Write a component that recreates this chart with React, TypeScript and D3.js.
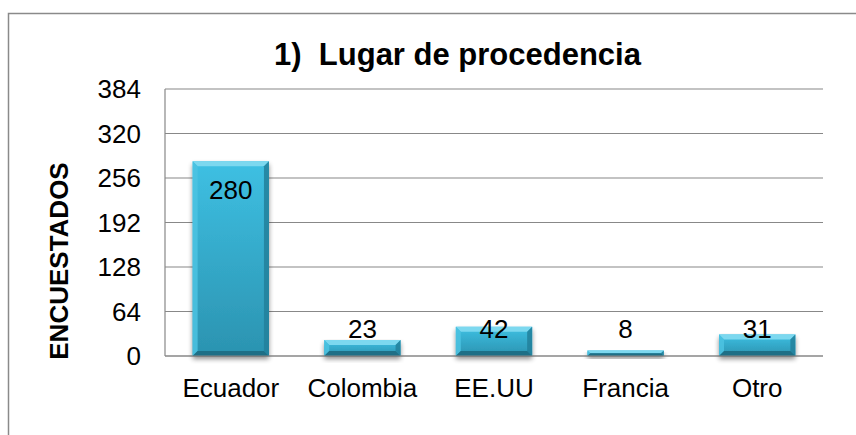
import React from "react";
import * as d3 from "d3";

const categories = ["Ecuador", "Colombia", "EE.UU", "Francia", "Otro"];
const values = [280, 23, 42, 8, 31];
const yTicks = [0, 64, 128, 192, 256, 320, 384];
const chartTitle = "1)  Lugar de procedencia";
const yTitle = "ENCUESTADOS";

const W = 856;
const H = 435;
const plot = { left: 165, right: 823, top: 89, bottom: 356 };
const FONT = "'Liberation Sans', Arial, sans-serif";

export default function App() {
  const x = d3
    .scaleBand<string>()
    .domain(categories)
    .range([plot.left, plot.right])
    .paddingInner(0.42)
    .paddingOuter(0.21);
  const y = d3.scaleLinear().domain([0, 384]).range([plot.bottom, plot.top]);
  const bw = x.bandwidth();

  return (
    <svg
      width={W}
      height={H}
      style={{ position: "absolute", left: 0, top: 0, background: "#fff" }}
      fontFamily={FONT}
    >
      <defs>
        <linearGradient id="barBody" x1="0" y1="0" x2="0" y2="1">
          <stop offset="0%" stopColor="#3EC0E3" />
          <stop offset="100%" stopColor="#2B93B0" />
        </linearGradient>
        <filter id="shadow" x="-20%" y="-20%" width="140%" height="160%">
          <feGaussianBlur in="SourceAlpha" stdDeviation="2.5" />
          <feOffset dx="0" dy="3" result="b" />
          <feComponentTransfer>
            <feFuncA type="linear" slope="0.45" />
          </feComponentTransfer>
          <feMerge>
            <feMergeNode />
            <feMergeNode in="SourceGraphic" />
          </feMerge>
        </filter>
      </defs>

      <rect x={8.5} y={13.5} width={W + 10} height={H + 10} fill="none" stroke="#8a8a8a" strokeWidth={1.5} />

      {yTicks.map((t) => (
        <g key={t}>
          <line x1={plot.left} x2={plot.right} y1={y(t)} y2={y(t)} stroke="#888" strokeWidth={1.2} />
          <text x={141} y={y(t) + 9} textAnchor="end" fontSize={26} fill="#000">
            {t}
          </text>
        </g>
      ))}
      <line x1={plot.left} x2={plot.left} y1={plot.top} y2={plot.bottom} stroke="#888" strokeWidth={1.2} />

      {categories.map((c, i) => {
        const v = values[i];
        const x0 = x(c)!;
        const y0 = y(v);
        const h = y(0) - y0;
        const b = Math.min(5, h / 2);
        const x1 = x0 + bw;
        const y1 = y(0);
        return (
          <g key={c}>
            <g filter="url(#shadow)">
              <rect x={x0} y={y0} width={bw} height={h} fill="url(#barBody)" />
            </g>
            <polygon points={`${x0},${y0} ${x1},${y0} ${x1 - b},${y0 + b} ${x0 + b},${y0 + b}`} fill="#7CD8EF" />
            <polygon points={`${x0},${y0} ${x0 + b},${y0 + b} ${x0 + b},${y1 - b} ${x0},${y1}`} fill="#4CC3E2" opacity={0.85} />
            <polygon points={`${x1},${y0} ${x1 - b},${y0 + b} ${x1 - b},${y1 - b} ${x1},${y1}`} fill="#22809B" opacity={0.85} />
            <polygon points={`${x0},${y1} ${x0 + b},${y1 - b} ${x1 - b},${y1 - b} ${x1},${y1}`} fill="#1E6F86" />
          </g>
        );
      })}

      <line x1={plot.left} x2={plot.right} y1={y(0)} y2={y(0)} stroke="#888" strokeWidth={1.2} />

      {categories.map((c, i) => {
        const v = values[i];
        const cx = x(c)! + bw / 2;
        const base = Math.min(y(v) + 38, y(0) - 18);
        return (
          <text key={c} x={cx} y={base} textAnchor="middle" fontSize={26} fill="#000">
            {v}
          </text>
        );
      })}

      {categories.map((c) => (
        <text key={c} x={x(c)! + bw / 2} y={396.5} textAnchor="middle" fontSize={26} fill="#000">
          {c}
        </text>
      ))}

      <text
        x={457.5}
        y={65}
        textAnchor="middle"
        fontSize={31}
        fontWeight="bold"
        fill="#000"
        style={{ whiteSpace: "pre" }}
      >
        {chartTitle}
      </text>

      <text
        transform={`translate(68, 261) rotate(-90)`}
        textAnchor="middle"
        fontSize={26}
        fontWeight="bold"
        fill="#000"
      >
        {yTitle}
      </text>
    </svg>
  );
}
